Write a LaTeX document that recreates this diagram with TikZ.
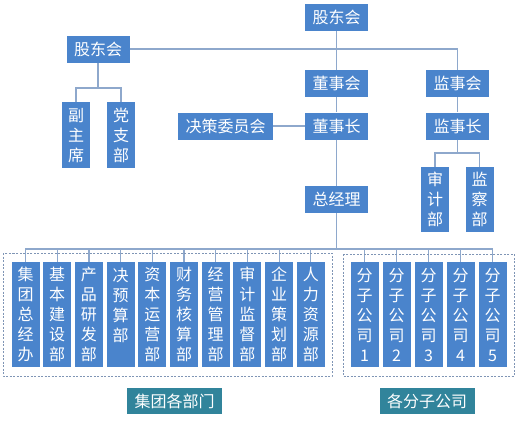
\documentclass[tikz,border=0pt]{standalone}
\usepackage{fontspec}
\newfontfamily\cjk{Noto Sans CJK SC}
\definecolor{boxblue}{HTML}{4A84CC}
\definecolor{tagteal}{HTML}{31849B}
\definecolor{linkblue}{HTML}{8EA8CC}
\definecolor{framegray}{HTML}{7F95B5}

\begin{document}
\begin{tikzpicture}[x=1pt,y=-1pt,
  box/.style={fill=boxblue, text=white, font=\cjk\fontsize{16}{20}\selectfont,
    inner xsep=7.5pt, inner ysep=0pt, minimum height=27pt, minimum width=63pt},
  vbox/.style={box, minimum width=28pt, text width=16pt, align=center,
    inner xsep=6pt, inner ysep=3pt, anchor=north},
  tag/.style={box, fill=tagteal, minimum width=95pt, minimum height=26pt},
  link/.style={draw=linkblue, line width=1.2pt},
  frame/.style={draw=framegray, dash pattern=on 2pt off 1.5pt, line width=0.8pt}]

\useasboundingbox (0,0) rectangle (516,423);

\node[box] (gudonghui) at (336.5,17.5) {股东会};
\node[box] (gudonghui2) at (98,49) {股东会};
\node[box] (dongshihui) at (336.5,83.5) {董事会};
\node[box] (dongshizhang) at (336.5,126) {董事长};
\node[box] (juece) at (225.5,126) {决策委员会};
\node[box] (jianshihui) at (457.5,83.5) {监事会};
\node[box] (jianshizhang) at (457.5,126) {监事长};
\node[box] (zongjingli) at (336.5,199.5) {总经理};

\node[vbox, minimum height=66pt] (fuzhuxi) at (76,102) {副\\主\\席};
\node[vbox, minimum height=66pt] (dangzhibu) at (121,102) {党\\支\\部};
\node[vbox, minimum height=65pt] (shenjibu) at (435,167) {审\\计\\部};
\node[vbox, minimum height=65pt] (jianchabu) at (479.5,167) {监\\察\\部};

% departments
\foreach \i/\txt in {1/{集\\团\\总\\经\\办}, 2/{基\\本\\建\\设\\部}, 3/{产\\品\\研\\发\\部},
  4/{决\\预\\算\\部\\\mbox{}}, 5/{资\\本\\运\\营\\部}, 6/{财\\务\\核\\算\\部},
  7/{经\\营\\管\\理\\部}, 8/{审\\计\\监\\督\\部}, 9/{企\\业\\策\\划\\部}, 10/{人\\力\\资\\源\\部}}
  \node[vbox, minimum height=105pt] (bumen\i) at ({25.5+31.7*(\i-1)},262) {\txt};

% subsidiaries
\foreach \i in {1,...,5}
  \node[vbox, minimum height=105pt] (fengongsi\i) at ({364.5+32*(\i-1)},262) {分\\子\\公\\司\\\i};

\coordinate (bus1) at (98,88);
\coordinate (bus2) at (457.5,153);
\coordinate (bus3) at (336.5,249);

\draw[link] (gudonghui) -- (dongshihui);
\draw[link] (gudonghui2) -| (jianshihui);
\draw[link] (dongshihui) -- (dongshizhang);
\draw[link] (dongshizhang) -- (zongjingli);
\draw[link] (juece) -- (dongshizhang);
\draw[link] (jianshihui) -- (jianshizhang);

\draw[link] (gudonghui2) -- (bus1);
\draw[link] (fuzhuxi) |- (bus1) -| (dangzhibu);
\draw[link] (jianshizhang) -- (bus2);
\draw[link] (shenjibu) |- (bus2) -| (jianchabu);

\draw[link] (zongjingli) -- (bus3);
\foreach \i in {1,...,10}
  \draw[link] (bumen\i) |- (bus3);
\foreach \i in {1,...,5}
  \draw[link] (fengongsi\i) |- (bus3);

% frames and labels
\draw[frame] (3,253) rectangle (332,376);
\draw[frame] (343,254) rectangle (514,376);
\node[tag] (bumenlabel) at (174.5,401) {集团各部门};
\node[tag] (fengongsilabel) at (427,401) {各分子公司};

\end{tikzpicture}
\end{document}
